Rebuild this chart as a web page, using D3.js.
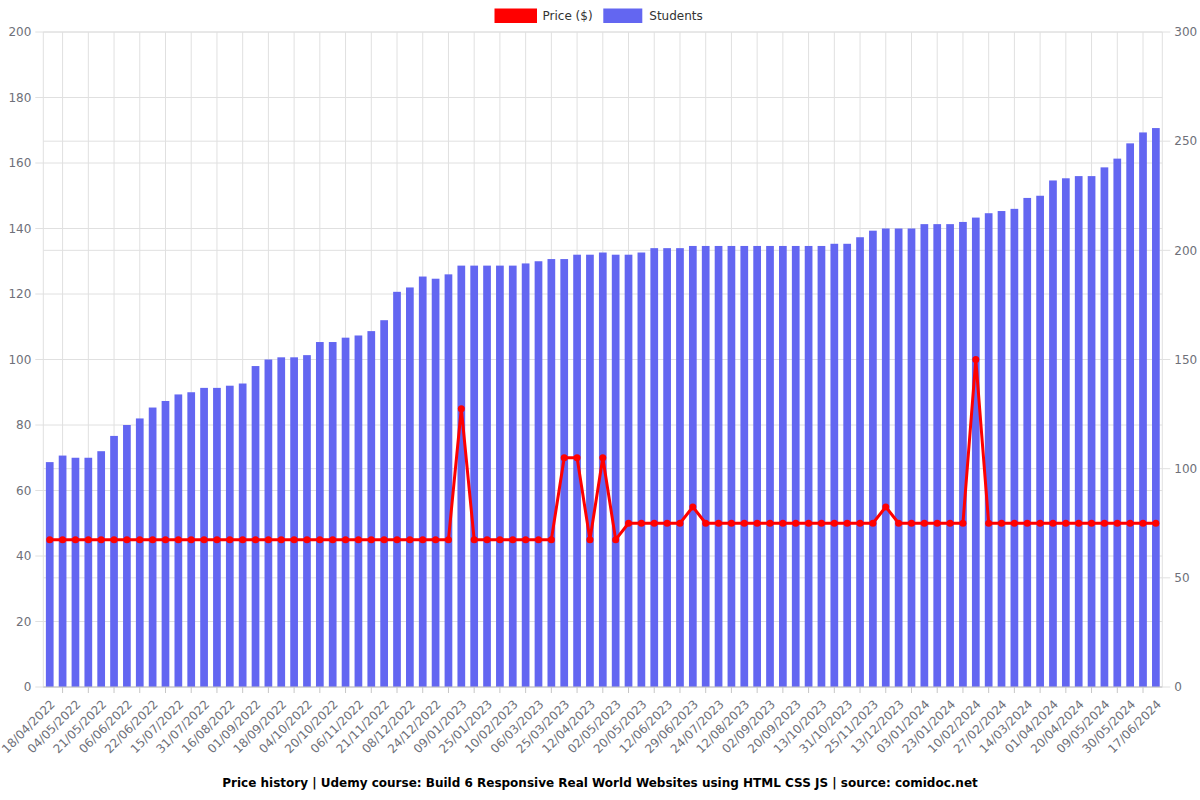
<!DOCTYPE html>
<html><head><meta charset="utf-8">
<script src="https://cdn.jsdelivr.net/npm/d3@7"></script>
<style>body{margin:0;background:#fff;} svg{display:block;font-family:"DejaVu Sans",sans-serif;}</style>
</head><body>
<svg id="c" width="1200" height="800"></svg>
<script>
const dates = [
"18/04/2022","26/04/2022","04/05/2022","12/05/2022","21/05/2022","29/05/2022","06/06/2022","14/06/2022","22/06/2022","02/07/2022",
"15/07/2022","23/07/2022","31/07/2022","08/08/2022","16/08/2022","24/08/2022","01/09/2022","09/09/2022","18/09/2022","26/09/2022",
"04/10/2022","12/10/2022","20/10/2022","28/10/2022","06/11/2022","13/11/2022","21/11/2022","29/11/2022","08/12/2022","16/12/2022",
"24/12/2022","01/01/2023","09/01/2023","17/01/2023","25/01/2023","02/02/2023","10/02/2023","22/02/2023","06/03/2023","15/03/2023",
"25/03/2023","03/04/2023","12/04/2023","22/04/2023","02/05/2023","11/05/2023","20/05/2023","01/06/2023","12/06/2023","20/06/2023",
"29/06/2023","11/07/2023","24/07/2023","03/08/2023","12/08/2023","22/08/2023","02/09/2023","11/09/2023","20/09/2023","01/10/2023",
"13/10/2023","22/10/2023","31/10/2023","12/11/2023","25/11/2023","04/12/2023","13/12/2023","23/12/2023","03/01/2024","13/01/2024",
"23/01/2024","01/02/2024","10/02/2024","18/02/2024","27/02/2024","06/03/2024","14/03/2024","23/03/2024","01/04/2024","10/04/2024",
"20/04/2024","29/04/2024","09/05/2024","19/05/2024","30/05/2024","08/06/2024","17/06/2024"];

const students = [
103,106,105,105,108,115,120,123,128,131,
134,135,137,137,138,139,147,150,151,151,
152,158,158,160,161,163,168,181,183,188,
187,189,193,193,193,193,193,194,195,196,
196,198,198,199,198,198,199,201,201,201,
202,202,202,202,202,202,202,202,202,202,
202,203,203,206,209,210,210,210,212,212,
212,213,215,217,218,219,224,225,232,233,
234,234,238,242,249,254,256];

const prices = [
45,45,45,45,45,45,45,45,45,45,
45,45,45,45,45,45,45,45,45,45,
45,45,45,45,45,45,45,45,45,45,
45,45,85,45,45,45,45,45,45,45,
70,70,45,70,45,50,50,50,50,50,
55,50,50,50,50,50,50,50,50,50,
50,50,50,50,50,55,50,50,50,50,
50,50,100,50,50,50,50,50,50,50,
50,50,50,50,50,50,50];

const priceTicks = [0,20,40,60,80,100,120,140,160,180,200];
const studentTicks = [0,50,100,150,200,250,300];
const seriesNames = ["Price ($)","Students"];
const titleText = "Price history | Udemy course: Build 6 Responsive Real World Websites using HTML CSS JS | source: comidoc.net";

const L = 43.3, R = 1162.3, T = 32, B = 687;
const svg = d3.select("#c");
const x = d3.scaleBand().domain(d3.range(dates.length)).range([L, R]).paddingInner(0.4).paddingOuter(0.2);
const step = x.step();
const cx = i => L + (i + 0.5) * step;
const yP = d3.scaleLinear().domain([0, 200]).range([B, T]);
const yS = d3.scaleLinear().domain([0, 300]).range([B, T]);
const gridC = "#e0e0e0", labC = "#6e7079";

// horizontal grid (both axes)
const g = svg.append("g");
priceTicks.forEach(t => g.append("line").attr("x1", L - 8).attr("x2", R).attr("y1", yP(t)).attr("y2", yP(t)).attr("stroke", gridC));
studentTicks.forEach(t => g.append("line").attr("x1", L).attr("x2", R + 8).attr("y1", yS(t)).attr("y2", yS(t)).attr("stroke", gridC));
// vertical grid
const vx = [L, R].concat(d3.range(1, dates.length, 2).map(cx));
vx.forEach(v => g.append("line").attr("x1", v).attr("x2", v).attr("y1", T).attr("y2", B).attr("stroke", gridC));

// bars
svg.append("g").selectAll("rect").data(students).join("rect")
  .attr("x", (d, i) => x(i)).attr("width", x.bandwidth())
  .attr("y", d => yS(d)).attr("height", d => B - yS(d))
  .attr("fill", "#6366f1");

// x axis line & ticks
svg.append("line").attr("x1", L).attr("x2", R).attr("y1", B).attr("y2", B).attr("stroke", "#c6c6c6");
d3.range(1, dates.length, 2).forEach(i => svg.append("line").attr("x1", cx(i)).attr("x2", cx(i)).attr("y1", B).attr("y2", B + 6).attr("stroke", "#c6c6c6"));

// x labels
svg.append("g").selectAll("text").data(d3.range(0, dates.length, 2)).join("text")
  .attr("transform", i => `translate(${cx(i) + 3},${B + 15}) rotate(-45)`)
  .attr("text-anchor", "end").attr("dy", "0.35em")
  .attr("font-size", 12).attr("fill", labC).text(i => dates[i]);

// y labels
svg.append("g").selectAll("text").data(priceTicks).join("text")
  .attr("x", L - 12).attr("y", d => yP(d)).attr("dy", "0.35em").attr("text-anchor", "end")
  .attr("font-size", 12).attr("fill", labC).text(d => d);
svg.append("g").selectAll("text").data(studentTicks).join("text")
  .attr("x", R + 12).attr("y", d => yS(d)).attr("dy", "0.35em").attr("text-anchor", "start")
  .attr("font-size", 12).attr("fill", labC).text(d => d);

// price line
const line = d3.line().x((d, i) => cx(i)).y(d => yP(d));
svg.append("path").datum(prices).attr("d", line).attr("fill", "none").attr("stroke", "#ff0000").attr("stroke-width", 3).attr("stroke-linejoin", "round");
svg.append("g").selectAll("circle").data(prices).join("circle")
  .attr("cx", (d, i) => cx(i)).attr("cy", d => yP(d)).attr("r", 3.5).attr("fill", "#ff0000");

// legend
const lg = svg.append("g");
lg.append("rect").attr("x", 494.5).attr("y", 8.5).attr("width", 42.5).attr("height", 14.5).attr("fill", "#ff0000");
lg.append("text").attr("x", 542.5).attr("y", 16).attr("dy", "0.35em").attr("font-size", 12).attr("fill", "#333").text(seriesNames[0]);
lg.append("rect").attr("x", 603.3).attr("y", 8.5).attr("width", 39).attr("height", 14.5).attr("fill", "#6366f1");
lg.append("text").attr("x", 649.3).attr("y", 16).attr("dy", "0.35em").attr("font-size", 12).attr("fill", "#333").text(seriesNames[1]);

// title
svg.append("text").attr("x", 600).attr("y", 783).attr("dy", "0.35em").attr("text-anchor", "middle")
  .attr("font-size", 12).attr("font-weight", "bold").attr("fill", "#000").text(titleText);
</script>
</body></html>
